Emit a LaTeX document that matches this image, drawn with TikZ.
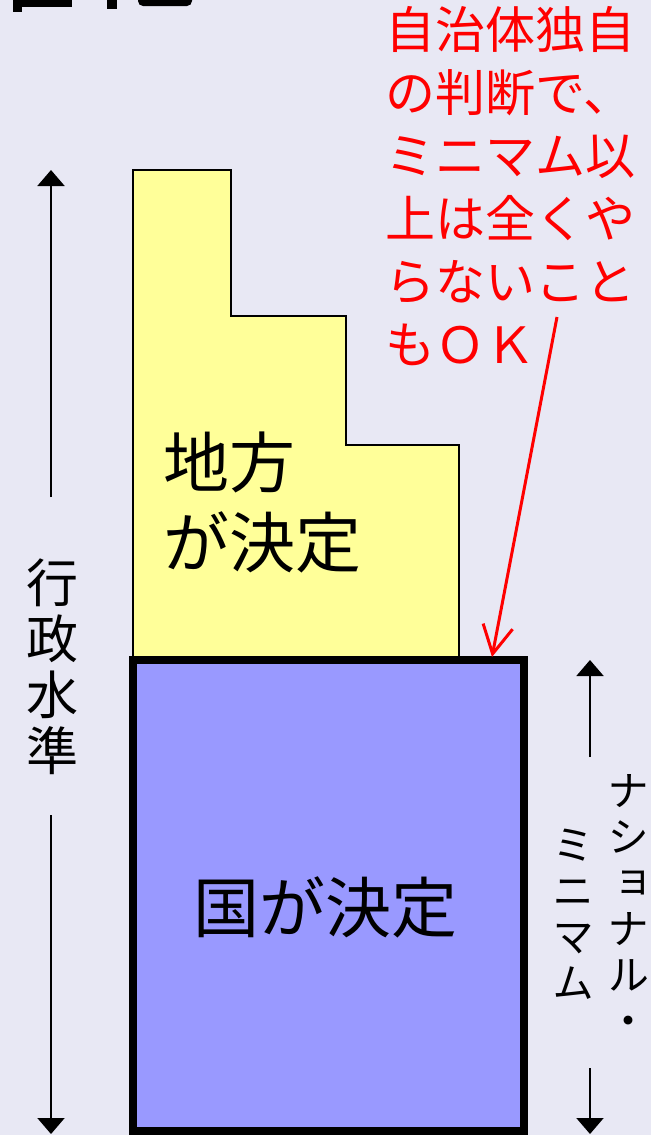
\documentclass[tikz,border=0pt]{standalone}
\usepackage{fontspec}
\setmainfont{Noto Sans CJK JP}
\newfontfamily\jp{Noto Sans CJK JP}
\newfontfamily\vjp[RawFeature=+vert]{Noto Sans CJK JP}
\usetikzlibrary{arrows.meta}
\definecolor{bg}{RGB}{232,232,244}
\definecolor{yel}{RGB}{255,255,153}
\definecolor{blu}{RGB}{153,153,255}
\definecolor{red}{RGB}{255,0,0}
\tikzset{
  big/.style={font=\jp\fontsize{66}{80}\selectfont, inner sep=0pt},
  note/.style={font=\jp\fontsize{50}{63}\selectfont, text=red, inner sep=0pt, align=left},
  vlab/.style={font=\vjp\fontsize{52}{56}\selectfont, inner sep=0pt, align=center},
  vsmall/.style={font=\vjp\fontsize{42}{46}\selectfont, inner sep=0pt, align=center},
  dimarrow/.style={line width=2pt, -{Triangle[length=16pt,width=27pt]}},
}
\begin{document}
\begin{tikzpicture}[x=1pt,y=-1pt]
\useasboundingbox (0,0) rectangle (651,1135);
\clip (0,0) rectangle (651,1135);
\fill[bg] (0,0) rectangle (651,1135);
% cut-off title fragments
\fill[black] (13,-2) rectangle (22,12);
\fill[black] (13,-2) rectangle (72,7);
\fill[black] (107,-2) rectangle (117,9);
\fill[black, rounded corners=5pt] (138,-12) rectangle (192,6);
% local part
\draw[fill=yel, line width=1.5pt] (133,660) -- (133,170) -- (231,170) -- (231,316) -- (346,316) -- (346,445) -- (459,445) -- (459,660) -- cycle;
\node[big, anchor=north west, align=left] (chiho) at (163,432) {地方\\が決定};
% national part
\node[draw=black, fill=blu, line width=8pt, minimum width=391pt, minimum height=471pt, big] (kuni) at (328.5,895.5) {};
\node[big] (kunit) at (325,907) {国が決定};
% red note
\node[note, anchor=north west] (note) at (385,6) {自治体独自\\の判断で、\\ミニマム以\\上は全くや\\らないこと\\もＯＫ};
\coordinate (nstart) at (557,317);
\coordinate (ntip) at (492,657);
\draw[red, line width=3pt, -{Straight Barb[length=28pt,width=30pt,line width=3pt]}] (nstart) -- (ntip);
% left dimension
\node[vlab] (gyosei) at (52,667) {行\\政\\水\\準};
\coordinate (lt1) at (51,497);
\coordinate (lt2) at (51,170);
\coordinate (lb1) at (51,815);
\coordinate (lb2) at (51,1134);
\draw[dimarrow] (lt1) -- (lt2);
\draw[dimarrow] (lb1) -- (lb2);
% right dimension
\node[vsmall] (nat) at (628,905) {ナ\\シ\\ョ\\ナ\\ル\\・};
\node[vsmall] (mini) at (573,914) {ミ\\ニ\\マ\\ム};
\coordinate (rt1) at (590,757);
\coordinate (rt2) at (590,660);
\coordinate (rb1) at (590,1068);
\coordinate (rb2) at (590,1134);
\draw[dimarrow] (rt1) -- (rt2);
\draw[dimarrow] (rb1) -- (rb2);
\end{tikzpicture}
\end{document}
